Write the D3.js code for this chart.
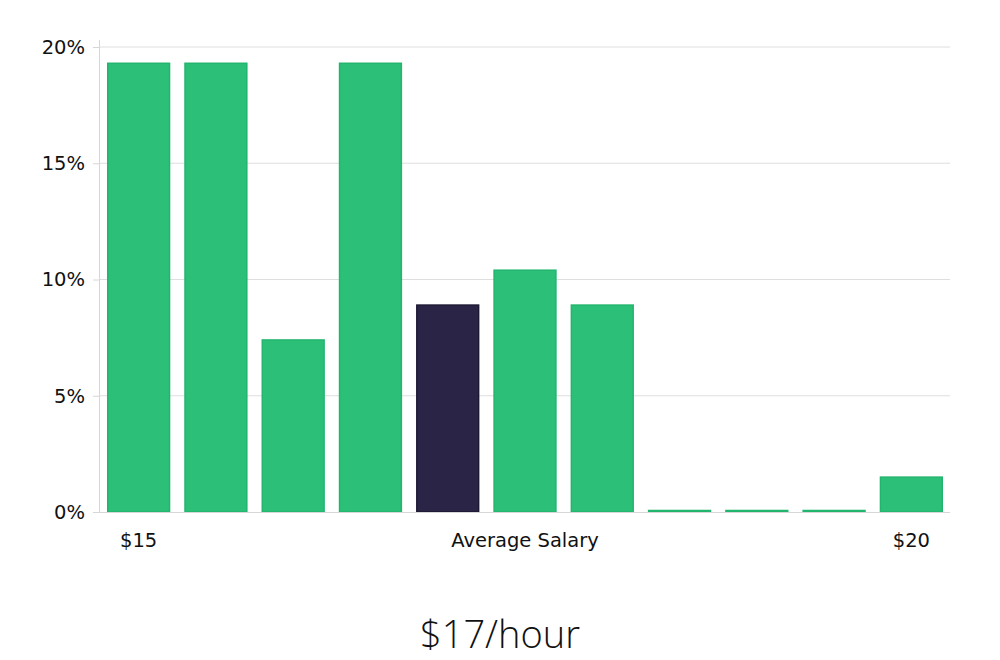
<!DOCTYPE html>
<html><head><meta charset="utf-8">
<script src="https://cdn.jsdelivr.net/npm/d3@7"></script>
<style>body{margin:0;background:#fff}svg{display:block}</style>
</head><body>
<svg id="c" width="1000" height="660"></svg>
<script>
const categories = ["b1","b2","b3","b4","b5","b6","b7","b8","b9","b10","b11"];
const values = [19.3, 19.3, 7.4, 19.3, 8.9, 10.4, 8.9, 0, 0, 0, 1.5];
const highlight = [false,false,false,false,true,false,false,false,false,false,false];
const yTicks = [0,5,10,15,20];
const xLabels = [{pos:"b1",text:"$15"},{pos:"mid",text:"Average Salary"},{pos:"b11",text:"$20"}];
const title = "$17/hour";

const svg = d3.select("#c");
const L=100,R=950,T=47,B=512;
const x = d3.scaleBand().domain(categories).range([L,R]).paddingInner(0.2).paddingOuter(0.1);
const y = d3.scaleLinear().domain([0,20]).range([B,T]);

// gridlines
svg.append("g").selectAll("line").data(yTicks.filter(d=>d>0)).join("line")
  .attr("x1",L).attr("x2",R).attr("y1",d=>y(d)).attr("y2",d=>y(d))
  .attr("stroke","#dedede").attr("stroke-width",1);

// y axis
const ya = svg.append("g").attr("transform",`translate(${L},0)`)
  .call(d3.axisLeft(y).tickValues(yTicks).tickFormat(d=>d+"%").tickSize(7).tickPadding(8));
ya.select(".domain").attr("stroke","#d6d6d6").attr("d",`M-0.5,${T-7}V${B}`);
ya.selectAll(".tick line").attr("stroke","#d6d6d6");
ya.selectAll("text").attr("font-family","DejaVu Sans").attr("font-size",19.5).attr("fill","#111");

// bars
svg.append("g").selectAll("rect").data(categories).join("rect")
  .attr("x",d=>x(d)).attr("width",x.bandwidth())
  .attr("y",(d,i)=>Math.min(y(values[i]),B-1.5)).attr("height",(d,i)=>Math.max(B-y(values[i]),1.5))
  .attr("fill",(d,i)=>highlight[i]?"#2a2546":"#2cbf78")
  .attr("stroke",(d,i)=>highlight[i]?"#1c1833":"#22b56e").attr("stroke-width",1.5);

// x axis line
svg.append("line").attr("x1",L).attr("x2",R).attr("y1",B+0.5).attr("y2",B+0.5).attr("stroke","#d6d6d6");

// x labels
svg.append("g").selectAll("text").data(xLabels).join("text")
  .attr("x",d=>d.pos==="mid"?(L+R)/2:x(d.pos)+x.bandwidth()/2)
  .attr("y",547).attr("text-anchor","middle")
  .attr("font-family","DejaVu Sans").attr("font-size",19.5).attr("fill","#111")
  .text(d=>d.text);

svg.append("text").attr("x",500).attr("y",648).attr("text-anchor","middle")
  .attr("font-family","Open Sans").attr("font-weight",300).attr("font-size",38).attr("fill","#111")
  .text(title);
</script>
</body></html>
